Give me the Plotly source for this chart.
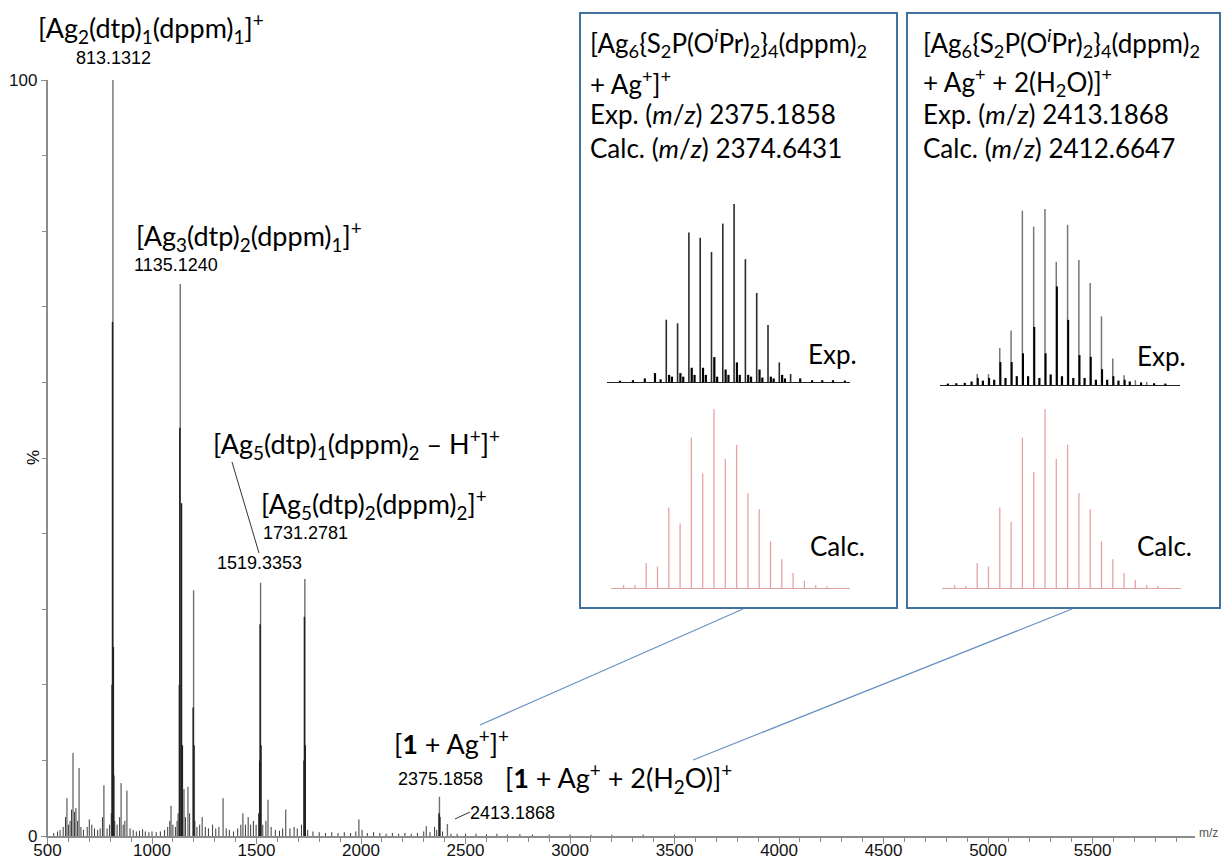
import plotly.graph_objects as go

W, H = 1224, 860

# ---------------- main spectrum data (m/z, relative intensity %) ----------------
major_mz = [813.13, 1135.12, 1199.0, 1519.34, 1731.28, 2375.19, 2413.19]
major_int = [100, 73, 32.5, 33.5, 34, 5.2, 1.6]

cluster_mz = [809.1, 811.1, 815.1, 817.1, 1131.1, 1133.1, 1141.1, 1145.1, 1197.0, 1201.0,
              1515.3, 1517.3, 1521.3, 1727.3, 1729.3, 1733.3, 2373.2, 2377.2]
cluster_int = [20, 68, 25, 8, 20, 54, 44, 12, 17, 12,
               10, 28, 12, 10, 29, 12, 3, 2.5]

minor_mz = [530, 548, 560, 575, 586, 593, 600, 608, 615, 622, 629, 636, 644, 651, 660, 672,
            690, 700, 712, 725, 740, 752, 763, 770, 785, 797, 805, 822, 833, 845, 852, 862,
            870, 880, 895, 910, 925, 940, 955, 968, 985, 1000, 1020, 1040, 1060, 1075, 1085,
            1091, 1100, 1112, 1120, 1125, 1153, 1160, 1172, 1180, 1205, 1215, 1228, 1240,
            1255, 1270, 1290, 1305, 1320, 1340, 1355, 1370, 1390, 1410, 1425, 1435, 1447,
            1460, 1472, 1485, 1498, 1510, 1530, 1545, 1555, 1570, 1590, 1610, 1625, 1640,
            1660, 1680, 1695, 1715, 1745, 1770, 1800, 1830, 1860, 1890, 1920, 1950, 1975,
            1990, 2005, 2030, 2060, 2090, 2120, 2150, 2180, 2210, 2240, 2270, 2300, 2312,
            2330, 2352, 2362, 2390, 2430, 2460, 2500, 2550, 2600, 2650, 2700, 2760, 2820,
            2900, 3000, 3100, 3200, 3350, 3500]
minor_int = [0.4, 0.6, 0.8, 1.2, 2.5, 5, 1.5, 2, 3.5, 11, 3.2, 3.7, 2, 9, 1.2, 0.8,
             1.2, 2.2, 1.5, 1, 0.8, 1, 2.5, 6.7, 1, 1.5, 3, 2, 1.5, 2.5, 7, 1.5,
             2, 6, 1, 0.8, 0.6, 0.7, 0.9, 0.6, 0.5, 0.6, 0.5, 0.6, 0.8, 1.2, 2,
             4, 1.5, 1.2, 2, 3, 6.2, 2.5, 6.5, 3, 2, 1.2, 1.5, 2.5,
             1.2, 1, 1.5, 1, 1.2, 5, 1, 0.8, 0.6, 1, 1.5, 3, 1.5,
             2.5, 1.5, 2, 1.5, 3, 1.5, 2, 4.8, 1.2, 0.8, 0.7, 1, 3.5,
             1, 1.2, 1, 1.5, 0.8, 0.6, 0.5, 0.4, 0.5, 0.4, 0.5, 0.4, 0.6,
             2.2, 0.8, 0.4, 0.5, 0.4, 0.3, 0.4, 0.3, 0.4, 0.3, 0.4, 0.6, 1.3,
             0.5, 1.2, 0.8, 0.6, 0.3, 0.3, 0.3, 0.3, 0.25, 0.3, 0.2, 0.25, 0.2,
             0.2, 0.2, 0.15, 0.15, 0.2, 0.15]

# ---------------- inset spectra ----------------
# left inset: [1 + Ag+]+
exp1_mz = [2363.2, 2365.2, 2367.2, 2369.2, 2371.2, 2373.2, 2375.2, 2377.2, 2379.2, 2381.2, 2383.2, 2385.2]
exp1_int = [35, 33, 84, 81, 73, 89, 100, 69, 50, 32, 11, 4.5]
exp1_minor_mz = [2355.0, 2357.3, 2359.4, 2361.2, 2362.2, 2363.7, 2364.2, 2365.7, 2366.2, 2367.7, 2368.2,
                 2369.7, 2370.2, 2371.7, 2372.2, 2373.7, 2374.2, 2375.7, 2376.2, 2377.7, 2378.2,
                 2379.7, 2380.2, 2381.7, 2382.2, 2383.7, 2384.2, 2386.9, 2389.0, 2390.8, 2392.7, 2394.8]
exp1_minor_int = [0.7, 1, 2, 5, 1.5, 4, 3, 5, 3, 8, 4,
                  8, 4, 14, 3, 7, 4, 11, 4, 4, 3,
                  7, 2.5, 3, 2, 4, 2, 2, 1, 1, 1, 0.8]
calc1_mz = [2358.64, 2360.64, 2362.64, 2364.64, 2366.64, 2368.64, 2370.64, 2372.64, 2374.64, 2376.64,
            2378.64, 2380.64, 2382.64, 2384.64, 2386.64, 2388.64, 2390.64, 2392.64, 2394.64]
calc1_int = [1.7, 1.7, 14, 12, 45, 36, 84, 64, 100, 72, 80, 53, 44, 26, 16, 8.4, 4, 1.7, 0.8]

# right inset: [1 + Ag+ + 2(H2O)]+
exp2_mz = [2401.19, 2403.19, 2405.19, 2407.19, 2409.19, 2411.19, 2413.19, 2415.19, 2417.19, 2419.19,
           2421.19, 2423.19, 2425.19, 2427.19, 2429.19, 2431.19]
exp2_int = [6.2, 6.2, 21, 31, 99, 90, 100, 70, 91, 71, 58, 39, 15, 5.6, 2.8, 1.7]
exp2_inner_mz = [2401.3, 2403.3, 2405.3, 2407.3, 2409.3, 2411.3, 2413.3, 2415.3, 2417.3, 2419.3,
                 2421.3, 2423.3, 2425.3, 2427.3]
exp2_inner_int = [4, 4, 13, 13, 18, 33, 18, 56, 37, 17, 16, 9, 5, 3]
exp2_minor_mz = [2396.0, 2397.5, 2399.0, 2400.2, 2402.2, 2404.2, 2406.2, 2408.2, 2410.2, 2412.2,
                 2414.2, 2416.2, 2418.2, 2420.2, 2422.2, 2424.2, 2426.2, 2428.2, 2430.2, 2432.5, 2434.5]
exp2_minor_int = [0.8, 1, 1.2, 2, 2.5, 3, 4, 5, 5, 4,
                  6, 5, 4, 4, 3, 3, 2.5, 2, 1.5, 1, 0.8]
calc2_mz = [2396.66, 2398.66, 2400.66, 2402.66, 2404.66, 2406.66, 2408.66, 2410.66, 2412.66, 2414.66,
            2416.66, 2418.66, 2420.66, 2422.66, 2424.66, 2426.66, 2428.66, 2430.66, 2432.66]
calc2_int = [1.7, 1.1, 14, 12, 45, 37, 84, 65, 100, 72, 80, 53, 44, 26, 16, 8.4, 4.5, 1.7, 1.1]

# ---------------- text content ----------------
ion_labels = [
    "[Ag<sub>2</sub>(dtp)<sub>1</sub>(dppm)<sub>1</sub>]<sup>+</sup>",
    "[Ag<sub>3</sub>(dtp)<sub>2</sub>(dppm)<sub>1</sub>]<sup>+</sup>",
    "[Ag<sub>5</sub>(dtp)<sub>1</sub>(dppm)<sub>2</sub> – H<sup>+</sup>]<sup>+</sup>",
    "[Ag<sub>5</sub>(dtp)<sub>2</sub>(dppm)<sub>2</sub>]<sup>+</sup>",
    "[<b>1</b> + Ag<sup>+</sup>]<sup>+</sup>",
    "[<b>1</b> + Ag<sup>+</sup> + 2(H<sub>2</sub>O)]<sup>+</sup>",
]
mz_labels = ["813.1312", "1135.1240", "1519.3353", "1731.2781", "2375.1858", "2413.1868"]
inset1_lines = ["[Ag<sub>6</sub>{S<sub>2</sub>P(O<sup><i>i</i></sup>Pr)<sub>2</sub>}<sub>4</sub>(dppm)<sub>2</sub>",
                "+ Ag<sup>+</sup>]<sup>+</sup>",
                "Exp. (<i>m</i>/<i>z</i>) 2375.1858",
                "Calc. (<i>m</i>/<i>z</i>) 2374.6431"]
inset2_lines = ["[Ag<sub>6</sub>{S<sub>2</sub>P(O<sup><i>i</i></sup>Pr)<sub>2</sub>}<sub>4</sub>(dppm)<sub>2</sub>",
                "+ Ag<sup>+</sup> + 2(H<sub>2</sub>O)]<sup>+</sup>",
                "Exp. (<i>m</i>/<i>z</i>) 2413.1868",
                "Calc. (<i>m</i>/<i>z</i>) 2412.6647"]


def sticks(xs, ys):
    X, Y = [], []
    for a, b in zip(xs, ys):
        X += [a, a, None]
        Y += [0, b, None]
    return X, Y


fig = go.Figure()


def add_sticks(xs, ys, color, width, xa, ya):
    X, Y = sticks(xs, ys)
    fig.add_trace(go.Scatter(x=X, y=Y, mode="lines", line=dict(color=color, width=width),
                             xaxis=xa, yaxis=ya, hoverinfo="skip", showlegend=False))


# main
add_sticks(minor_mz, minor_int, "#3a3a3a", 1.0, "x", "y")
add_sticks(major_mz, major_int, "#6e6e6e", 1.4, "x", "y")
add_sticks(cluster_mz, cluster_int, "#222222", 1.5, "x", "y")
# insets
add_sticks(exp1_mz, exp1_int, "#2a2a2a", 1.6, "x2", "y2")
add_sticks(exp1_minor_mz, exp1_minor_int, "#000000", 2.2, "x2", "y2")
add_sticks(calc1_mz, calc1_int, "#e4a3a3", 1.3, "x3", "y3")
add_sticks(exp2_mz, exp2_int, "#777777", 1.5, "x4", "y4")
add_sticks(exp2_inner_mz, exp2_inner_int, "#000000", 2.0, "x4", "y4")
add_sticks(exp2_minor_mz, exp2_minor_int, "#000000", 2.2, "x4", "y4")
add_sticks(calc2_mz, calc2_int, "#e4a3a3", 1.3, "x5", "y5")


def px(x):
    return x / W


def py(y):
    return 1 - y / H


axis_grey = "#8c8c8c"
layout = dict(
    width=W, height=H, margin=dict(l=0, r=0, t=0, b=0, autoexpand=False),
    paper_bgcolor="white", plot_bgcolor="white", showlegend=False,
    xaxis=dict(domain=[px(47.5), px(1195)], range=[500, 5990], anchor="y", automargin=False,
               showline=True, linecolor=axis_grey, linewidth=1.5,
               ticks="outside", ticklen=6, tickwidth=1.2, tickcolor=axis_grey,
               tickmode="linear", tick0=500, dtick=500, ticklabelstandoff=-8,
               tickfont=dict(family="Liberation Sans", size=17, color="#111"),
               minor=dict(ticks="outside", ticklen=4, tickcolor=axis_grey, dtick=100, tick0=500),
               showgrid=False, zeroline=False),
    yaxis=dict(domain=[py(836), py(80)], range=[0, 100], anchor="x", automargin=False,
               showline=True, linecolor=axis_grey, linewidth=1.5,
               ticks="outside", ticklen=5, tickcolor=axis_grey,
               tickmode="array", tickvals=[0, 100], ticktext=["0", "100"],
               tickfont=dict(family="Liberation Sans", size=17, color="#111"),
               minor=dict(ticks="outside", ticklen=4, tickcolor=axis_grey, dtick=10, tick0=0),
               showgrid=False, zeroline=False),
)

insets = [
    # (axis id, x-domain px, y-domain px (bottom, top), x-range, baseline colour, width)
    ("2", (607, 850), (382, 204), (2352.71, 2395.71), "#222222", 1.4),
    ("3", (611, 850), (588, 409), (2356.41, 2398.71), "#e4a3a3", 1.0),
    ("4", (940, 1180), (385, 209), (2394.61, 2437.09), "#222222", 1.4),
    ("5", (942, 1181), (588, 409), (2394.43, 2436.73), "#e4a3a3", 1.0),
]
for n, (x0, x1), (yb, yt), rng, lc, lw in insets:
    layout["xaxis" + n] = dict(domain=[px(x0), px(x1)], range=list(rng), anchor="y" + n,
                               automargin=False,
                               showline=True, linecolor=lc, linewidth=lw, ticks="",
                               showticklabels=False, showgrid=False, zeroline=False)
    layout["yaxis" + n] = dict(domain=[py(yb), py(yt)], range=[0, 100], anchor="x" + n,
                               automargin=False, visible=False)
fig.update_layout(**layout)

annotations = []


def ann(text, x, y, size, family="Lato", xanchor="left", yanchor="middle", color="#000", angle=0):
    annotations.append(dict(text=text, x=px(x), y=py(y), xref="paper", yref="paper",
                            xanchor=xanchor, yanchor=yanchor, showarrow=False, textangle=angle,
                            font=dict(family=family, size=size, color=color)))


big = 27
ann(ion_labels[0], 36, 28, big)
ann(ion_labels[1], 134, 236, big)
ann(ion_labels[2], 211, 444, big)
ann(ion_labels[3], 259, 504, big)
ann(ion_labels[4], 392, 742, big)
ann(ion_labels[5], 503, 778, big)

small = 18
ann(mz_labels[0], 113, 58, small, "Liberation Sans", "center")
ann(mz_labels[1], 176, 265, small, "Liberation Sans", "center")
ann(mz_labels[2], 259, 563, small, "Liberation Sans", "center")
ann(mz_labels[3], 305, 533, small, "Liberation Sans", "center")
ann(mz_labels[4], 440, 779, small, "Liberation Sans", "center")
ann(mz_labels[5], 512, 813, small, "Liberation Sans", "center")

ann("%", 33, 458, 17, "Liberation Sans", "center", angle=-90)
ann("m/z", 1197, 833, 12, "Liberation Sans", "left", color="#555")

inset = 26
for i, (y) in enumerate([43, 82, 114, 148]):
    ann(inset1_lines[i], 588, y, inset)
    ann(inset2_lines[i], 921, y, inset)

ann("Exp.", 859, 354, inset, xanchor="right")
ann("Calc.", 867, 546, inset, xanchor="right")
ann("Exp.", 1188, 356, inset, xanchor="right")
ann("Calc.", 1194, 546, inset, xanchor="right")

fig.update_layout(annotations=annotations)

box = "#41719c"
shapes = [
    dict(type="rect", xref="paper", yref="paper", x0=px(580), x1=px(897), y0=py(608), y1=py(13),
         line=dict(color=box, width=2)),
    dict(type="rect", xref="paper", yref="paper", x0=px(907), x1=px(1220), y0=py(608), y1=py(13),
         line=dict(color=box, width=2)),
    dict(type="line", xref="paper", yref="paper", x0=px(743), y0=py(609), x1=px(480), y1=py(725),
         line=dict(color="#6a93c4", width=1.2)),
    dict(type="line", xref="paper", yref="paper", x0=px(1072), y0=py(609), x1=px(693), y1=py(760),
         line=dict(color="#6a93c4", width=1.2)),
    dict(type="line", xref="paper", yref="paper", x0=px(232), y0=py(462), x1=px(259), y1=py(553),
         line=dict(color="#333", width=1)),
    dict(type="line", xref="paper", yref="paper", x0=px(455), y0=py(819), x1=px(470), y1=py(812),
         line=dict(color="#333", width=1)),
]
fig.update_layout(shapes=shapes)

fig.write_html("out.html")
